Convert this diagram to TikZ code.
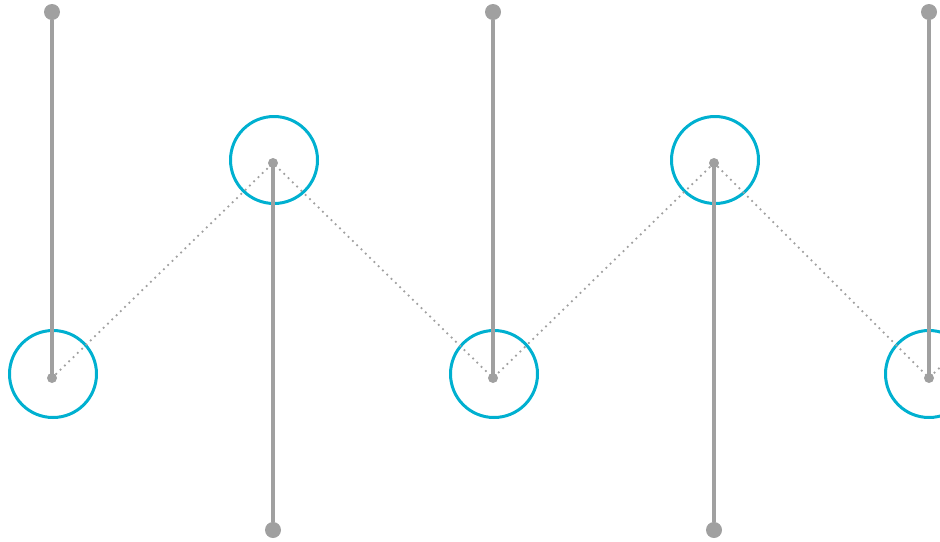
\documentclass[tikz,border=0pt]{standalone}
\usetikzlibrary{positioning}
\definecolor{pin_grey}{RGB}{160,160,160}
\definecolor{ring_cyan}{RGB}{0,176,208}
\tikzset{
  pivot/.style={circle,fill=pin_grey,inner sep=0pt,minimum size=10pt},
  knob/.style={circle,fill=pin_grey,inner sep=0pt,minimum size=16pt},
  ring/.style={circle,draw=ring_cyan,line width=3pt,inner sep=0pt,minimum size=87pt},
  rod/.style={draw=pin_grey,line width=3.2pt},
  chain/.style={draw=pin_grey,line width=2.5pt,dash pattern=on 0pt off 6pt}
}
\begin{document}
\begin{tikzpicture}[x=1pt,y=-1pt,line join=round,line cap=round]
	\useasboundingbox (0,0) rectangle (940,541);
	\clip (0,0) rectangle (940,541);

	% rings round the pivots
	\foreach \n/\x/\y in {1/53/374, 2/274/160, 3/494/374, 4/715/160, 5/929/374}
		\node[ring] (r\n) at (\x,\y) {};

	% pivots and end knobs
	\foreach \n/\x/\y in {1/52/378, 2/273/163, 3/493/378, 4/714/163, 5/929/378}
		\coordinate (c\n) at (\x,\y);
	\coordinate (c6) at (1150,163);
	\node[knob] (k1) at (52,12) {};
	\node[knob] (k2) at (273,530) {};
	\node[knob] (k3) at (493,12) {};
	\node[knob] (k4) at (714,530) {};
	\node[knob] (k5) at (929,12) {};

	\draw[chain] (c1) -- (c2) -- (c3) -- (c4) -- (c5) -- (c6);

	\foreach \n in {1,...,5}
		\draw[rod] (k\n) -- (c\n);

	\foreach \n in {1,...,5}
		\node[pivot] (p\n) at (c\n) {};
\end{tikzpicture}
\end{document}
